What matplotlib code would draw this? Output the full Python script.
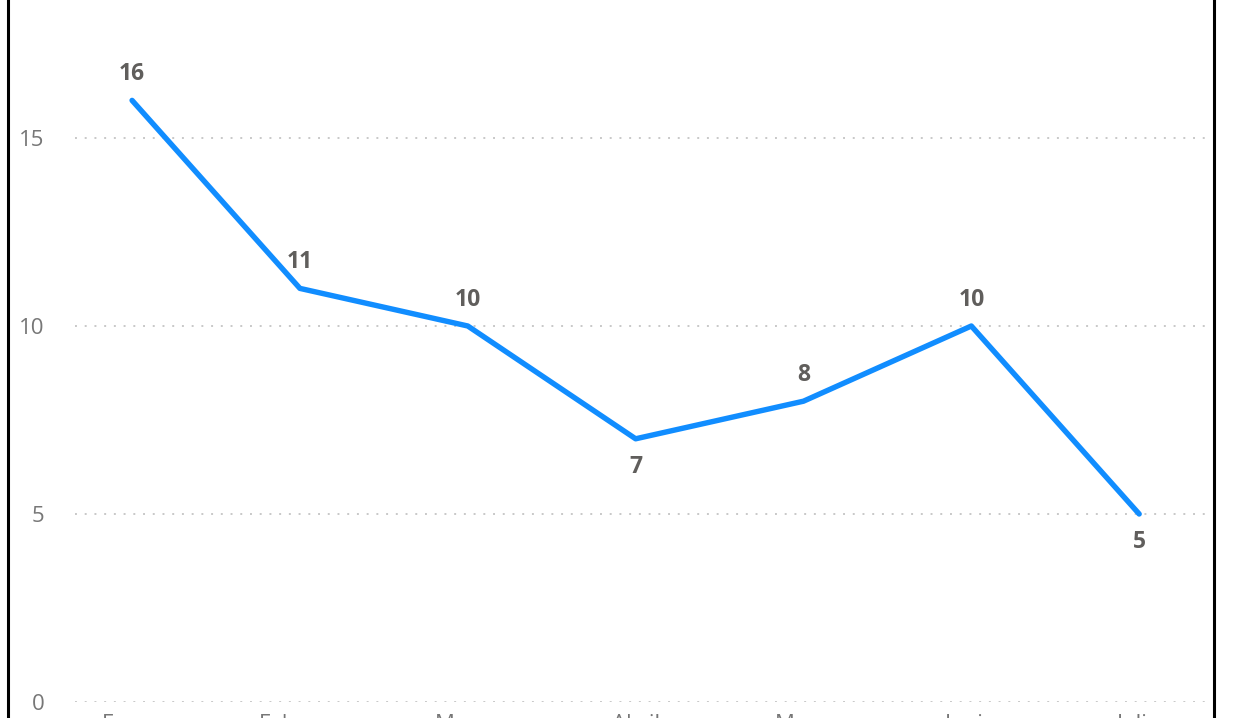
import matplotlib
matplotlib.use("Agg")
import matplotlib.pyplot as plt
from matplotlib.lines import Line2D

months = ["Enero", "Febrero", "Marzo", "Abril", "Mayo", "Junio", "Julio"]
values = [16, 11, 10, 7, 8, 10, 5]
label_below = [False, False, False, True, False, False, True]
y_ticks = [0, 5, 10, 15]

W, H = 1236, 718
fig = plt.figure(figsize=(W / 100, H / 100), dpi=100)
fig.patch.set_facecolor("white")

ax_left, ax_right, ax_bottom, ax_top = 75, 1208, 702, 0
ax = fig.add_axes([ax_left / W, (H - ax_bottom) / H, (ax_right - ax_left) / W, (ax_bottom - ax_top) / H])

x = list(range(len(months)))
ax.plot(x, values, color="#118DFF", linewidth=3.9, solid_capstyle="round", solid_joinstyle="round", zorder=3)

ax.set_xlim(-0.34, 6.41)
ax.set_ylim(0, 18.67)
ax.set_yticks(y_ticks)
ax.set_yticklabels([str(v) for v in y_ticks])
ax.set_xticks(x)
ax.set_xticklabels(months)

for s in ax.spines.values():
    s.set_visible(False)
ax.tick_params(axis="both", length=0, labelsize=16, labelcolor="#777777")
ax.tick_params(axis="y", pad=22)
ax.tick_params(axis="x", pad=8.5)
for t in ax.get_xticklabels() + ax.get_yticklabels():
    t.set_fontfamily("Open Sans")

ax.yaxis.grid(True, color="#C8C8C8", linewidth=1.4, linestyle=(0, (1, 4)))
ax.xaxis.grid(False)
ax.set_axisbelow(True)

for xi, v, below in zip(x, values, label_below):
    off = -28 if below else 26
    ax.annotate(str(v), (xi, v), xytext=(0, off), textcoords="offset pixels",
                ha="center", va="center", fontsize=16.5, fontweight="bold",
                color="#605E5C", fontfamily="Open Sans", zorder=4)

fig.add_artist(Line2D([8 / W, 8 / W], [0, 1], color="black", linewidth=2.2, transform=fig.transFigure))
fig.add_artist(Line2D([1214 / W, 1214 / W], [0, 1], color="black", linewidth=2.2, transform=fig.transFigure))

fig.savefig("out.png", dpi=100)
